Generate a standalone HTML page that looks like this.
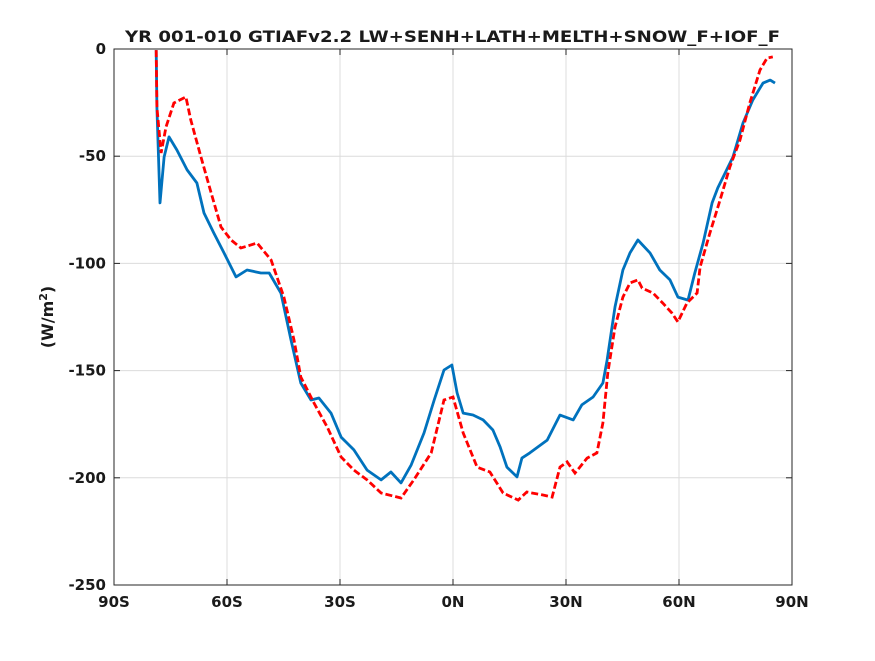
<!DOCTYPE html>
<html><head><meta charset="utf-8"><style>
body{margin:0;background:#fff}
svg text{font-family:"DejaVu Sans","Liberation Sans",sans-serif;font-weight:bold;fill:#1a1a1a}
</style></head><body>
<svg id="chart" width="875" height="656" xmlns="http://www.w3.org/2000/svg">
<rect width="875" height="656" fill="#fff"/>
<g id="grid"></g>
<g id="series"></g>
<rect x="114" y="49" width="678" height="536" fill="none" stroke="#262626" stroke-width="1"/>
<g id="ticks"></g>
<text x="125" y="42" textLength="655" lengthAdjust="spacingAndGlyphs" font-size="16" fill="#000">YR 001-010 GTIAFv2.2 LW+SENH+LATH+MELTH+SNOW_F+IOF_F</text>
<text transform="translate(53,317) rotate(-90)" text-anchor="middle" font-size="16">(W/m<tspan dy="-6" font-size="11">2</tspan><tspan dy="6">)</tspan></text>
</svg>
<script>
const xTicks=[-90,-60,-30,0,30,60,90];
const xTickLabels=["90S","60S","30S","0N","30N","60N","90N"];
const yTicks=[0,-50,-100,-150,-200,-250];
const blueLat=[-78.8,-78.6,-77.8,-76.7,-75.4,-73.3,-70.6,-68.0,-66.1,-63.5,-60.8,-57.6,-54.7,-51.0,-48.8,-45.7,-43.0,-40.4,-37.7,-35.6,-32.4,-29.7,-26.3,-22.8,-19.1,-16.5,-13.8,-11.1,-7.7,-5.0,-2.4,-0.3,1.1,2.7,5.3,8.0,10.6,12.5,14.3,17.0,18.3,20.4,25.0,28.4,31.9,34.2,37.2,39.8,40.9,43.0,45.1,47.0,49.1,52.3,54.9,57.6,59.7,62.4,64.2,66.4,68.8,70.3,74.3,77.0,79.6,82.3,84.2,85.5];
const blueVal=[-0.5,-27.1,-71.8,-50.4,-41.0,-47.1,-56.4,-62.5,-76.5,-85.8,-95.1,-106.3,-103.1,-104.5,-104.5,-113.8,-135.7,-155.8,-163.7,-162.8,-169.8,-181.0,-187.0,-196.4,-201.0,-197.3,-202.4,-194.0,-179.1,-163.7,-149.7,-147.4,-160.4,-169.8,-170.7,-173.0,-177.7,-185.6,-195.0,-199.6,-190.8,-188.4,-182.4,-170.7,-173.0,-166.0,-162.3,-155.8,-145.1,-120.3,-103.1,-95.1,-89.1,-95.1,-103.1,-107.7,-115.7,-117.1,-104.5,-90.5,-71.8,-64.8,-50.4,-34.5,-23.8,-15.9,-14.5,-15.9];
const redLat=[-78.8,-78.6,-77.5,-76.2,-74.1,-70.9,-69.6,-66.9,-64.2,-61.6,-58.9,-56.3,-52.0,-48.3,-44.9,-42.2,-40.4,-36.9,-33.4,-29.7,-26.3,-22.8,-19.1,-13.8,-10.4,-5.8,-2.4,0,2.7,6.4,9.8,13.3,17.3,19.6,23.9,26.3,28.4,30.3,32.4,35.6,38.2,39.8,41.1,43.0,45.1,47.0,49.1,50.2,53.1,55.7,58.1,59.7,62.1,64.8,65.6,68.2,70.9,73.5,76.2,78.8,81.5,83.4,84.9];
const redVal=[-0.5,-27.1,-48.5,-36.4,-25.2,-22.4,-33.1,-50.4,-67.2,-83.0,-89.1,-92.8,-90.5,-98.4,-115.7,-135.7,-153.0,-165.1,-176.3,-190.3,-196.4,-201.0,-207.1,-209.4,-201.0,-188.4,-163.7,-162.3,-179.1,-195.0,-197.3,-207.1,-210.4,-206.6,-208.0,-209.0,-195.0,-192.6,-197.8,-190.8,-188.4,-174.4,-151.1,-129.7,-115.7,-109.1,-107.7,-111.5,-113.8,-118.5,-123.1,-127.3,-118.5,-113.8,-101.7,-85.8,-70.4,-55.0,-42.4,-25.2,-9.8,-4.2,-3.7];
const X0=114,X1=792,Y0=49,Y1=585;
const sx=v=>X0+(v+90)/180*(X1-X0);
const sy=v=>Y0+(0-v)/250*(Y1-Y0);
const NS="http://www.w3.org/2000/svg";
const grid=document.getElementById('grid'),ticks=document.getElementById('ticks'),ser=document.getElementById('series');
function mk(tag,attrs,parent){const e=document.createElementNS(NS,tag);for(const k in attrs)e.setAttribute(k,attrs[k]);parent.appendChild(e);return e;}
xTicks.forEach((t,i)=>{
  const x=sx(t);
  const g=mk('line',{x1:x,x2:x,y1:Y0,y2:Y1,stroke:'#dcdcdc','stroke-width':1},grid);
  
  
  const tk=mk('line',{x1:x,x2:x,y1:Y1,y2:Y1-6,stroke:'#262626'},ticks);
  
  
  const tk2=mk('line',{x1:x,x2:x,y1:Y0,y2:Y0+6,stroke:'#262626'},ticks);
  
  
  const tx=mk('text',{x:x,y:Y1+22,'text-anchor':'middle','font-size':15},ticks);
  tx.textContent=xTickLabels[i];
  
  
});
yTicks.forEach(t=>{
  const y=sy(t);
  const g=mk('line',{x1:X0,x2:X1,y1:y,y2:y,stroke:'#dcdcdc','stroke-width':1},grid);
  
  
  const tk=mk('line',{x1:X0,x2:X0+6,y1:y,y2:y,stroke:'#262626'},ticks);
  
  
  const tk2=mk('line',{x1:X1,x2:X1-6,y1:y,y2:y,stroke:'#262626'},ticks);
  
  
  const tx=mk('text',{x:X0-8,y:y+5,'text-anchor':'end','font-size':15},ticks);
  tx.textContent=String(t);
  
  
});
function pts(la,va){return la.map((l,i)=>sx(l).toFixed(1)+','+sy(va[i]).toFixed(1)).join(' ');}
const b=mk('polyline',{points:pts(blueLat,blueVal),fill:'none',stroke:'#0072bd','stroke-width':2.8,'stroke-linejoin':'round'},ser);


const r=mk('polyline',{points:pts(redLat,redVal),fill:'none',stroke:'#ff0000','stroke-width':2.8,'stroke-dasharray':'7,3'},ser);


</script>
</body></html>
